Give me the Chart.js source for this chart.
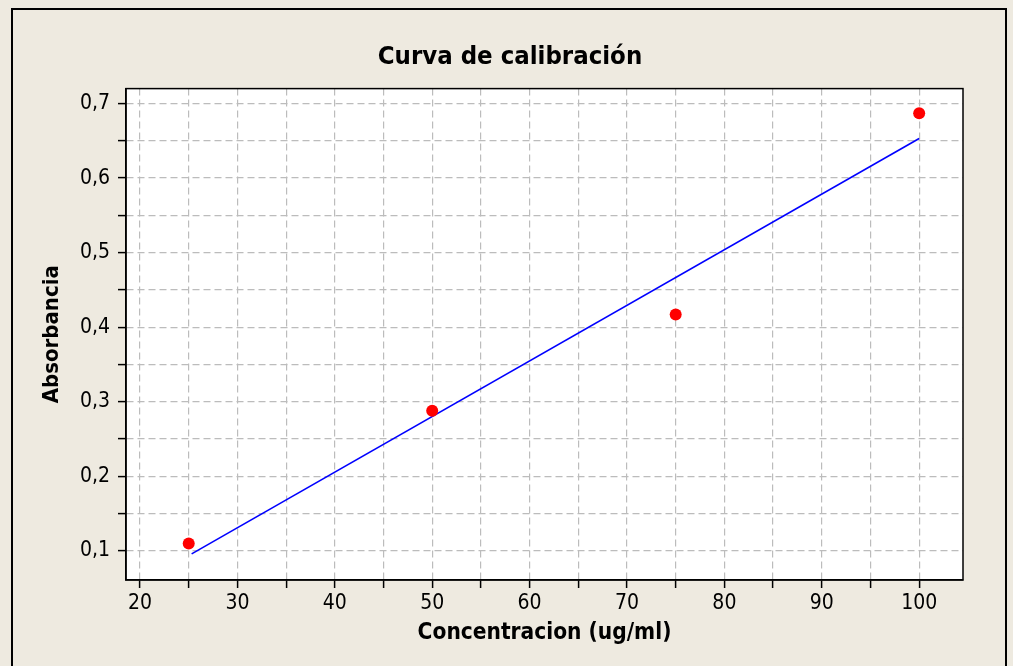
<!DOCTYPE html>
<html>
<head>
<meta charset="utf-8">
<title>Curva de calibración</title>
<script src="https://cdn.jsdelivr.net/npm/chart.js@4.4.1/dist/chart.umd.min.js"></script>
<style>
  html, body { margin: 0; padding: 0; background: #eeeae0; }
  canvas { display: block; }
</style>
</head>
<body>
<canvas id="calChart" width="1013" height="666"></canvas>
<script>
// ---- data ----
const concentracion = [25, 50, 75, 100];
const absorbancia = [0.110, 0.288, 0.417, 0.687];
// fitted line endpoints (as drawn in the original)
const fitX = [25.3, 100];
const fitY = [0.096, 0.653];

const xRange = [18.56, 104.5];
const yRange = [0.061, 0.72];
const xStep = 5, xLabelEvery = 10;
const yStep = 0.05, yLabelEvery = 0.1;

const FONT = "'DejaVu Sans Condensed', 'DejaVu Sans', sans-serif";
const BG = '#eeeae0';

function isMultiple(v, step) {
  return Math.abs(v / step - Math.round(v / step)) < 1e-6;
}

// frame + white plot panel
const framePlugin = {
  id: 'frame',
  beforeDraw(chart) {
    const { ctx, chartArea: a } = chart;
    ctx.save();
    ctx.fillStyle = BG;
    ctx.fillRect(0, 0, chart.width, chart.height);
    ctx.strokeStyle = '#000';
    ctx.lineWidth = 2;
    ctx.strokeRect(12, 9, 994, 700);
    ctx.fillStyle = '#fff';
    ctx.fillRect(a.left, a.top, a.right - a.left, a.bottom - a.top);
    ctx.restore();
  },
  afterDraw(chart) {
    const { ctx, chartArea: a } = chart;
    ctx.save();
    ctx.strokeStyle = '#000';
    ctx.lineWidth = 1.5;
    ctx.strokeRect(a.left, a.top, a.right - a.left, a.bottom - a.top);
    ctx.restore();
  }
};

const gridOpts = {
  color: '#bcbcbc',
  lineWidth: 1.2,
  tickColor: '#000',
  tickLength: 8,
  tickWidth: 1.5,
  tickBorderDash: []
};

new Chart(document.getElementById('calChart'), {
  data: {
    datasets: [
      {
        type: 'scatter',
        data: concentracion.map((x, i) => ({ x: x, y: absorbancia[i] })),
        backgroundColor: '#ff0000',
        borderWidth: 0,
        pointRadius: 6,
        pointHoverRadius: 6
      },
      {
        type: 'line',
        data: fitX.map((x, i) => ({ x: x, y: fitY[i] })),
        borderColor: '#0000ff',
        borderWidth: 1.6,
        pointRadius: 0,
        fill: false
      }
    ]
  },
  options: {
    responsive: false,
    animation: false,
    events: [],
    layout: { padding: { left: 7, right: 0, top: 0, bottom: 0 } },
    plugins: {
      legend: { display: false },
      tooltip: { enabled: false },
      title: {
        display: true,
        text: 'Curva de calibración',
        color: '#000',
        font: { family: FONT, size: 25.5, weight: 'bold' },
        padding: { top: 42, bottom: 16 }
      }
    },
    scales: {
      x: {
        type: 'linear',
        min: xRange[0],
        max: xRange[1],
        afterBuildTicks(scale) {
          scale.ticks = scale.ticks.filter(t => isMultiple(t.value, xStep));
        },
        afterFit(scale) { scale.height = 86; },
        ticks: {
          stepSize: xStep,
          includeBounds: false,
          autoSkip: false,
          maxRotation: 0,
          padding: 3,
          color: '#000',
          font: { family: FONT, size: 21 },
          callback: v => isMultiple(v, xLabelEvery) ? String(Math.round(v)) : ''
        },
        grid: gridOpts,
        border: { color: '#000', width: 1.5, dash: [7, 4] },
        title: {
          display: true,
          text: 'Concentracion (ug/ml)',
          color: '#000',
          font: { family: FONT, size: 22.5, weight: 'bold' },
          padding: { top: 0, bottom: 19 }
        }
      },
      y: {
        type: 'linear',
        min: yRange[0],
        max: yRange[1],
        afterBuildTicks(scale) {
          scale.ticks = scale.ticks.filter(t => isMultiple(t.value, yStep));
        },
        afterFit(scale) { scale.width = 119; },
        ticks: {
          stepSize: yStep,
          includeBounds: false,
          autoSkip: false,
          padding: 8,
          color: '#000',
          font: { family: FONT, size: 21 },
          callback: v => isMultiple(v, yLabelEvery) ? v.toFixed(1).replace('.', ',') : ''
        },
        grid: gridOpts,
        border: { color: '#000', width: 1.5, dash: [7, 4] },
        title: {
          display: true,
          text: 'Absorbancia',
          color: '#000',
          font: { family: FONT, size: 22, weight: 'bold' },
          padding: { top: 32, bottom: 0 }
        }
      },
      // empty strip on the right so the panel ends where the original does
      yRight: {
        type: 'linear',
        position: 'right',
        afterFit(scale) { scale.width = 50; },
        ticks: { display: false },
        grid: { display: false, drawTicks: false },
        border: { display: false }
      }
    }
  },
  plugins: [framePlugin]
});
</script>
</body>
</html>
